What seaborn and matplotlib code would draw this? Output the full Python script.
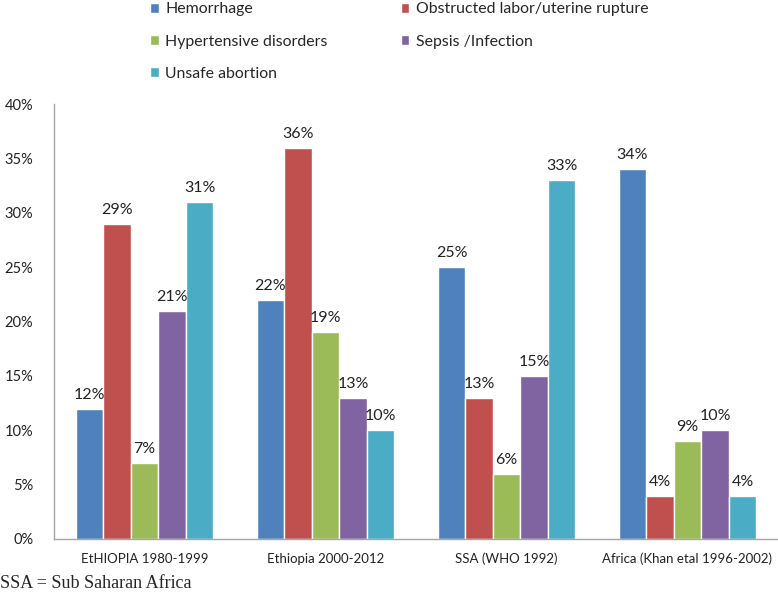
import pandas as pd
import matplotlib.pyplot as plt
import seaborn as sns
from matplotlib.ticker import FuncFormatter

regions = ["EtHIOPIA 1980-1999", "Ethiopia 2000-2012", "SSA (WHO 1992)",
           "Africa (Khan etal 1996-2002)"]
causes = ["Hemorrhage", "Obstructed labor/uterine rupture", "Hypertensive disorders",
          "Sepsis /Infection", "Unsafe abortion"]
hemorrhage = [12, 22, 25, 34]
obstructed = [29, 36, 13, 4]
hypertensive = [7, 19, 6, 9]
sepsis = [21, 13, 15, 10]
abortion = [31, 10, 33, 4]
colors = ["#4F81BD", "#C0504D", "#9BBB59", "#8064A2", "#4BACC6"]

rows = []
for cause, vals in zip(causes, [hemorrhage, obstructed, hypertensive, sepsis, abortion]):
    for reg, v in zip(regions, vals):
        rows.append({"region": reg, "cause": cause, "value": v})
df = pd.DataFrame(rows)

sns.set_style("white")
plt.rcParams['font.family'] = ['Lato', 'DejaVu Sans']

fig = plt.figure(figsize=(7.78, 5.94), dpi=100)
ax = fig.add_axes([54 / 778, 1 - 539 / 594, 724 / 778, 435 / 594])
sns.barplot(data=df, x="region", y="value", hue="cause", order=regions,
            hue_order=causes, palette=colors, width=0.76, gap=0,
            saturation=1, ax=ax, legend=True)

for cont in ax.containers:
    ax.bar_label(cont, fmt="%d%%", padding=5, fontsize=11.5, color="#222222")

ax.set_ylim(0, 40)
ax.set_yticks(range(0, 41, 5))
ax.yaxis.set_major_formatter(FuncFormatter(lambda v, p: f"{int(v)}%"))
ax.set_xlim(-0.5, 3.5)
ax.set_xlabel("")
ax.set_ylabel("")
ax.set_xticks([-0.5, 0.5, 1.5, 2.5, 3.5], minor=True)
ax.tick_params(axis="x", which="major", length=0, pad=10, labelsize=9.5, colors="#222222")
ax.tick_params(axis="x", which="minor", length=5, color="#A6A6A6", direction="out")
ax.tick_params(axis="y", length=5, color="#A6A6A6", direction="out", labelsize=10.5,
               labelcolor="#222222", pad=10)
for side in ["top", "right"]:
    ax.spines[side].set_visible(False)
for side in ["left", "bottom"]:
    ax.spines[side].set_color("#A6A6A6")
    ax.spines[side].set_linewidth(1)

# legend filled row by row like the original
handles, labels = ax.get_legend_handles_labels()
ax.get_legend().remove()
order = [0, 2, 4, 1, 3]
fig.legend([handles[i] for i in order], [labels[i] for i in order], ncol=2,
           loc="upper left", bbox_to_anchor=(136 / 778, 1.02),
           frameon=False, fontsize=11.4, handlelength=0.55, handleheight=0.55,
           handletextpad=0.4, labelspacing=1.15, columnspacing=4.6)

fig.text(0.0, 0.003, "SSA = Sub Saharan Africa", family="Liberation Serif",
         fontsize=13, ha="left", va="bottom")

plt.savefig("out.png", dpi=100)
